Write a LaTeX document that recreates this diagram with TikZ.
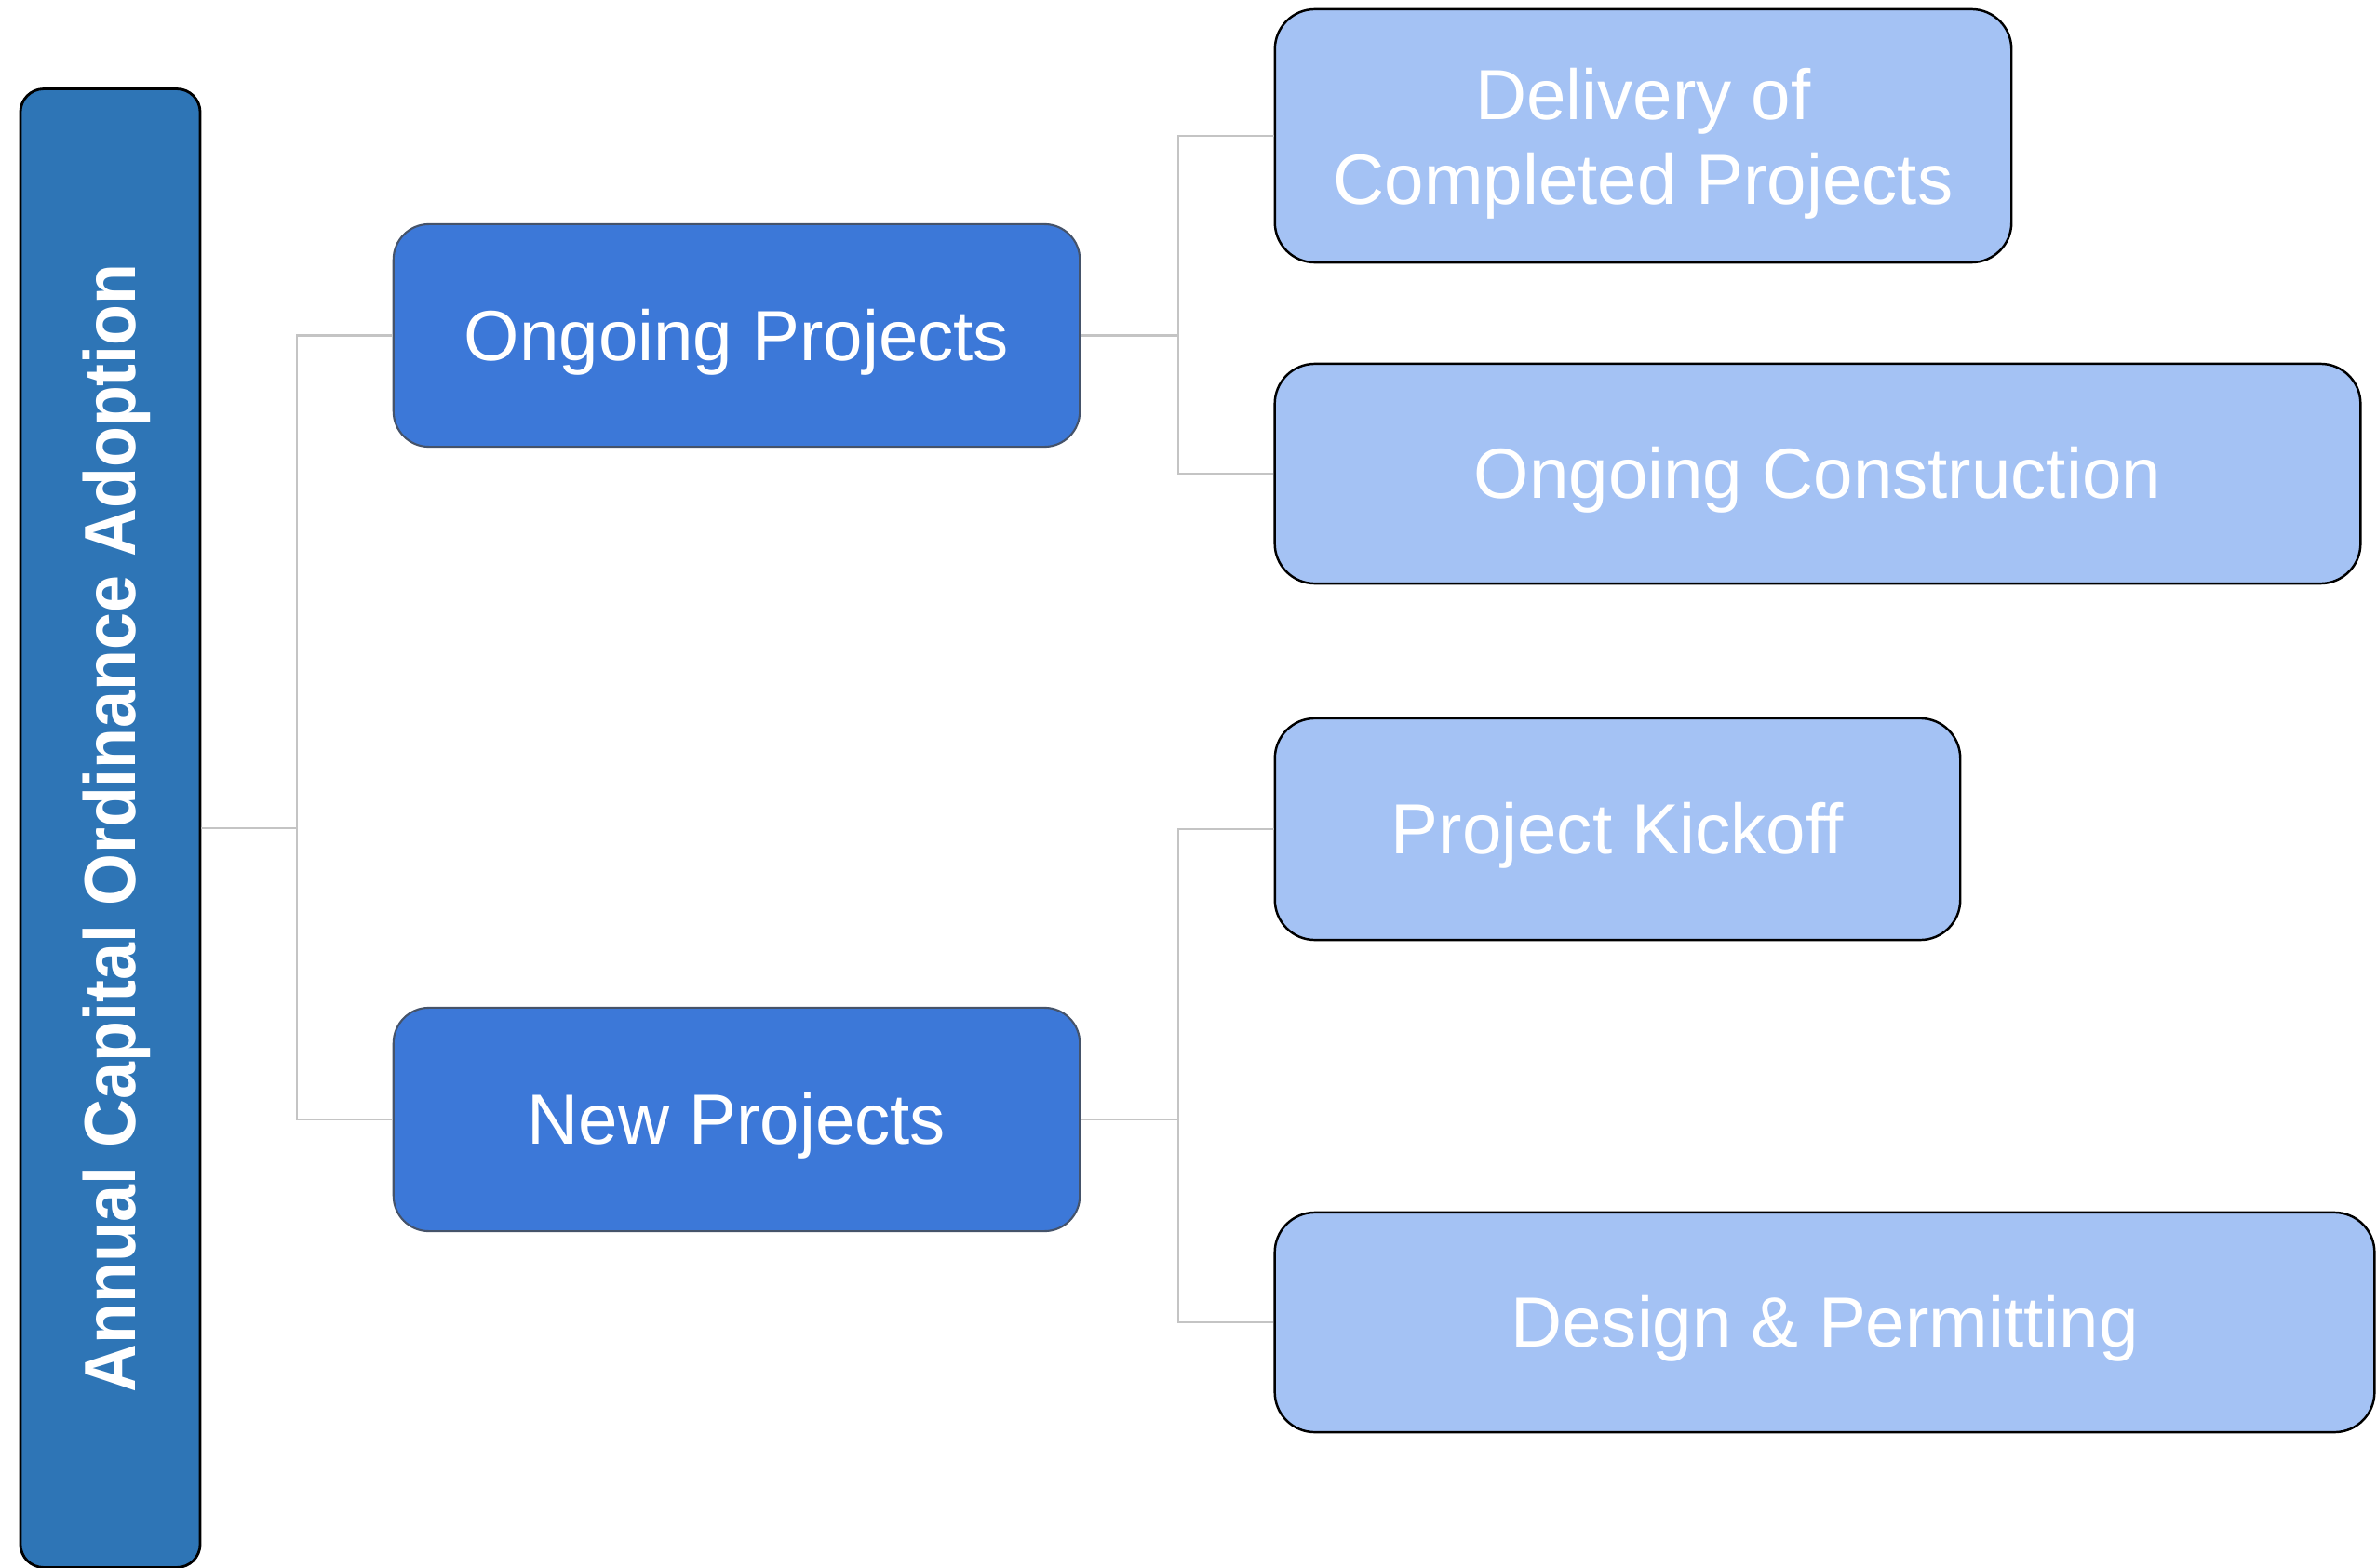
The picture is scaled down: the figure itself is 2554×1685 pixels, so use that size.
\documentclass[tikz,border=0pt]{standalone}
\usepackage{fontspec}
\setmainfont{Liberation Sans}
\newfontfamily\barfont[FakeStretch=0.92]{Liberation Sans Bold}
\definecolor{barblue}{HTML}{2E75B6}
\definecolor{midblue}{HTML}{3C78D8}
\definecolor{lightblue}{HTML}{A4C2F4}
\definecolor{conngray}{HTML}{C4C4C4}
\definecolor{midborder}{HTML}{45536A}
\tikzset{
  barbox/.style={draw=black, line width=0.8pt, fill=barblue, rounded corners=0.25cm, inner sep=0pt},
  midbox/.style={draw=midborder, line width=0.6pt, fill=midblue, rounded corners=0.38cm, inner sep=0pt},
  leafbox/.style={draw=black, line width=0.7pt, fill=lightblue, rounded corners=0.43cm, inner sep=0pt},
  boxtext/.style={text=white, inner sep=0pt, font=\fontsize{21.7pt}{26pt}\selectfont, align=center},
  conn/.style={draw=conngray, line width=0.6pt}
}
\begin{document}
\begin{tikzpicture}[x=0.01cm,y=-0.01cm]
\useasboundingbox (0,0) rectangle (2554,1685);
\node[barbox, minimum width=1.93cm, minimum height=15.88cm] (bar) at (118.5,890) {};
\node[text=white, rotate=90, font=\barfont\fontsize{22.2pt}{26pt}\selectfont] (bartext) at (125,890) {Annual Capital Ordinance Adoption};
\node[midbox, minimum width=7.37cm, minimum height=2.39cm] (op) at (791.5,360.5) {};
\node[midbox, minimum width=7.37cm, minimum height=2.40cm] (np) at (791.5,1203) {};
\node[leafbox, minimum width=7.91cm, minimum height=2.72cm] (dl) at (1765.5,146) {};
\node[leafbox, minimum width=11.66cm, minimum height=2.36cm] (oc) at (1953,509) {};
\node[leafbox, minimum width=7.36cm, minimum height=2.38cm] (pk) at (1738,891) {};
\node[leafbox, minimum width=11.81cm, minimum height=2.36cm] (dp) at (1960.5,1421) {};
\node[boxtext] (opt) at ([yshift=-0.07cm]op.center) {Ongoing Projects};
\node[boxtext] (npt) at ([yshift=-0.07cm]np.center) {New Projects};
\node[boxtext] (dlt) at ([yshift=-0.08cm]dl.center) {Delivery of\\Completed Projects};
\node[boxtext] (oct) at ([yshift=-0.07cm]oc.center) {Ongoing Construction};
\node[boxtext] (pkt) at ([yshift=-0.07cm]pk.center) {Project Kickoff};
\node[boxtext] (dpt) at ([yshift=-0.07cm]dp.center) {Design \& Permitting};
\coordinate (j1) at (319,890);
\coordinate (j2) at (1266,360.5);
\coordinate (j3) at (1266,1203);
\draw[conn] (bar.east) -- (j1);
\draw[conn] (op.west) -| (j1) |- (np.west);
\draw[conn] (op.east) -- (j2);
\draw[conn] (dl.west) -| (j2) |- (oc.west);
\draw[conn] (np.east) -- (j3);
\draw[conn] (pk.west) -| (j3) |- (dp.west);
\end{tikzpicture}
\end{document}
